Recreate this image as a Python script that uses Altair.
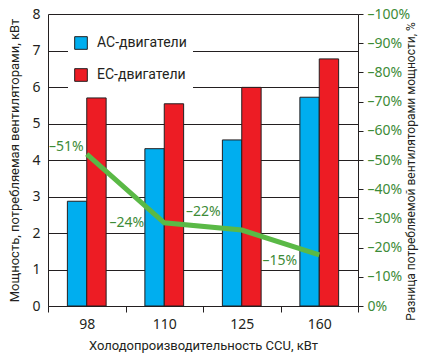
import altair as alt
import pandas as pd

categories = ["98", "110", "125", "160"]
ac_values = [2.87, 4.31, 4.55, 5.72]
ec_values = [5.70, 5.54, 5.99, 6.77]
diff_values = [52, 28.5, 26, 17.5]
diff_labels = ["–51%", "–24%", "–22%", "–15%"]
series_names = ["AC-двигатели", "EC-двигатели"]

FONT = "Noto Sans"
TFONT = "Roboto"
GREEN_TEXT = "#3d8b37"
GREEN_LINE = "#5ab946"
DARK = "#231f20"

bars_df = pd.DataFrame(
    [{"cat": c, "series": series_names[0], "value": v} for c, v in zip(categories, ac_values)]
    + [{"cat": c, "series": series_names[1], "value": v} for c, v in zip(categories, ec_values)]
)
line_df = pd.DataFrame({"cat": categories, "diff": diff_values, "label": diff_labels, "idx": list(range(4))})

x_enc = alt.X(
    "cat:N",
    sort=categories,
    scale=alt.Scale(paddingInner=0, paddingOuter=0),
    axis=alt.Axis(
        title="Холодопроизводительность CCU, кВт",
        labelAngle=0,
        tickBand="extent",
        tickSize=6,
        labelPadding=5,
        titlePadding=8,
        domainColor=DARK,
        tickColor=DARK,
    ),
)

bars = alt.Chart(bars_df).mark_bar(stroke=DARK, strokeWidth=1).encode(
    x=x_enc,
    xOffset=alt.XOffset("series:N", sort=series_names, scale=alt.Scale(paddingInner=0, paddingOuter=1)),
    y=alt.Y(
        "value:Q",
        scale=alt.Scale(domain=[0, 8]),
        axis=alt.Axis(
            title="Мощность, потребляемая вентиляторами, кВт",
            values=[0, 1, 2, 3, 4, 5, 6, 7, 8],
            grid=True,
            gridColor=DARK,
            gridOpacity=1,
            ticks=False,
            labelPadding=8,
            titlePadding=10,
            domainColor=DARK,
        ),
    ),
    color=alt.Color(
        "series:N",
        sort=series_names,
        scale=alt.Scale(domain=series_names, range=["#00aeef", "#ed1c24"]),
        legend=alt.Legend(
            title=None,
            orient="none",
            legendX=20,
            legendY=16,
            fillColor="white",
            padding=6,
            symbolType="square",
            symbolSize=160,
            symbolStrokeColor=DARK,
            symbolStrokeWidth=1,
            symbolOpacity=1,
            labelFontSize=14,
            labelFont=TFONT,
            labelColor=DARK,
            labelOffset=9,
            rowPadding=14,
        ),
    ),
)

y_right = alt.Y(
    "diff:Q",
    scale=alt.Scale(domain=[0, 100]),
    axis=alt.Axis(
        orient="right",
        title="Разница потребляемой вентиляторами мощности, %",
        titleAngle=270,
        titleY=157,
        titleFontSize=12,
        values=[0, 10, 20, 30, 40, 50, 60, 70, 80, 90, 100],
        labelExpr="datum.value == 0 ? '0%' : '–' + datum.value + '%'",
        labelColor=GREEN_TEXT,
        tickSize=5,
        labelPadding=4,
        titlePadding=8,
        grid=False,
        domainColor=DARK,
        tickColor=DARK,
    ),
)

line = alt.Chart(line_df).mark_line(color=GREEN_LINE, strokeWidth=5).encode(x=x_enc, y=y_right)

offsets = [(-3, -7), (-20, 0), (-21, -18), (-22, 6)]
texts = []
for i, (dx, dy) in enumerate(offsets):
    texts.append(
        alt.Chart(line_df)
        .transform_filter(alt.datum.idx == i)
        .mark_text(align="right", baseline="middle", dx=dx, dy=dy, fontSize=14, font=FONT, color=GREEN_TEXT)
        .encode(x=x_enc, y=y_right, text="label:N")
    )

right_layer = alt.layer(line, *texts)

chart = (
    alt.layer(bars, right_layer)
    .resolve_scale(y="independent")
    .properties(
        width=310,
        height=292,
        autosize=alt.AutoSizeParams(type="none"),
        padding={"left": 40, "top": 6, "right": 67, "bottom": 47},
    )
    .configure_view(stroke=None)
    .configure_axis(
        labelFont=FONT,
        titleFont=TFONT,
        labelFontSize=14,
        titleFontSize=13,
        titleFontWeight="normal",
        labelColor=DARK,
        titleColor=DARK,
    )
)

chart.save("out.html", embed_options={"renderer": "svg", "actions": False})
